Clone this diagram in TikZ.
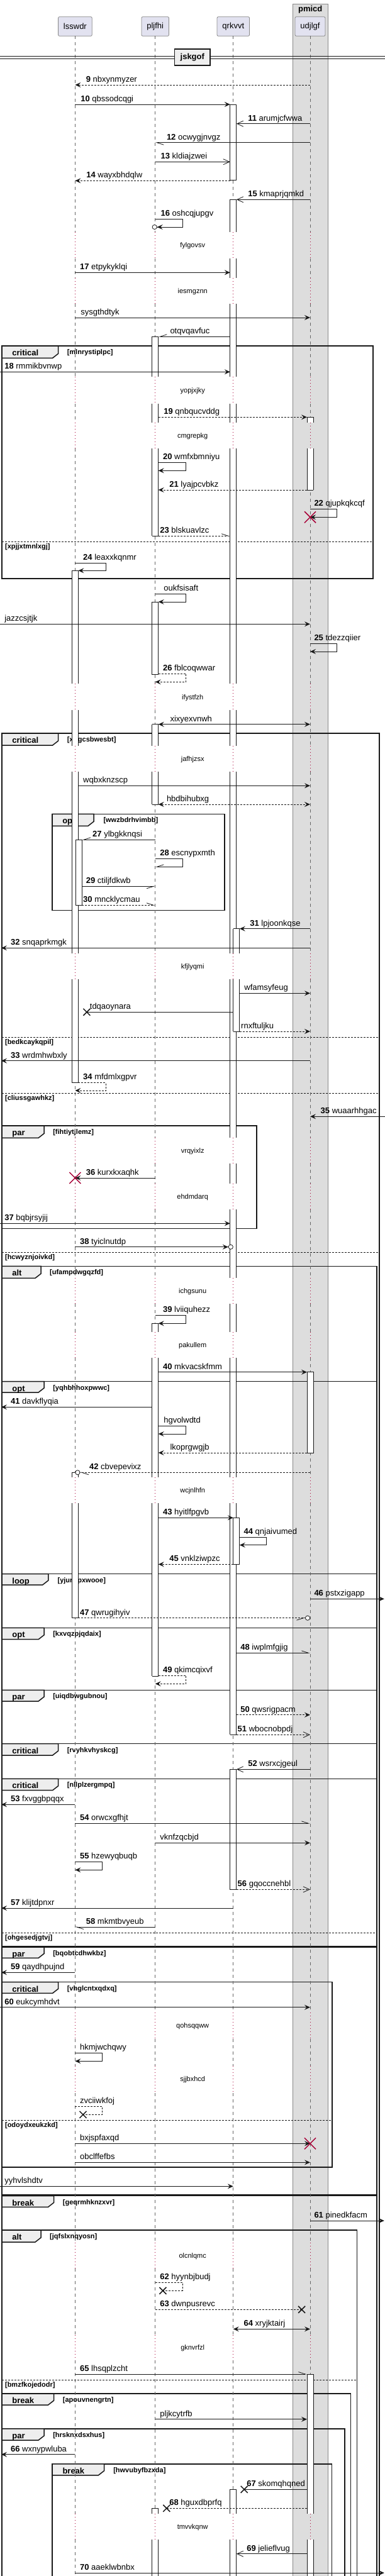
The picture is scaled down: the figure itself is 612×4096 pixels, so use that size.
\documentclass[tikz,border=0pt]{standalone}
\usepackage{fontspec}
\setmainfont{Liberation Sans}
\usetikzlibrary{arrows.meta}

\definecolor{ink}{HTML}{181818}
\definecolor{lifegray}{HTML}{666666}
\definecolor{boxline}{HTML}{888888}
\definecolor{crimson}{HTML}{A80036}
\definecolor{partfill}{HTML}{E2E2F0}
\definecolor{tabfill}{HTML}{EEEEEE}
\definecolor{boxfill}{HTML}{DDDDDD}

\begin{document}
\begin{tikzpicture}[x=1pt, y=-1pt,
    part/.style={draw=boxline, line width=0.8pt, fill=partfill, rounded corners=2pt, inner xsep=8.4pt, minimum height=30.6pt, font=\fontsize{13}{15}\selectfont},
    life/.style={lifegray, line width=0.8pt, dash pattern=on 5pt off 5pt},
    dots/.style={crimson, line width=0.8pt, dash pattern=on 1pt off 4pt},
    bar/.style={ink, line width=0.8pt},
    frame/.style={ink, line width=1.5pt},
    tab/.style={ink, line width=1.5pt, fill=tabfill},
    kw/.style={anchor=base west, inner sep=0pt, font=\bfseries\fontsize{13}{15}\selectfont},
    guard/.style={anchor=base west, inner sep=0pt, font=\bfseries\fontsize{11}{13}\selectfont},
    orelse/.style={ink, line width=0.8pt, dash pattern=on 3pt off 2pt},
    lbl/.style={anchor=base west, inner sep=0pt, font=\fontsize{13}{15}\selectfont},
    delay/.style={inner sep=0pt, font=\fontsize{11}{13}\selectfont},
    ret/.style={dash pattern=on 3pt off 2pt},
    plain/.style={ink, line width=0.8pt},
    call/.style={ink, line width=0.8pt, -{Stealth[length=9pt,width=8pt,inset=3.5pt]}},
    twoway/.style={ink, line width=0.8pt, {Stealth[length=9pt,width=8pt,inset=3.5pt]}-{Stealth[length=9pt,width=8pt,inset=3.5pt]}},
    barb/.style={ink, line width=0.8pt, -{Straight Barb[length=10pt,width=9pt]}},
    halfl/.style={ink, line width=0.8pt, -{Straight Barb[left,length=11pt,width=7pt]}},
    halfr/.style={ink, line width=0.8pt, -{Straight Barb[right,length=11pt,width=7pt]}},
    callo/.style={ink, line width=0.8pt, -{Stealth[length=9pt,width=8pt,inset=3.5pt]Circle[length=8pt,fill=white]}},
    halflo/.style={ink, line width=0.8pt, -{Straight Barb[left,length=11pt,width=7pt]Circle[length=8pt,fill=white]}},
    halfro/.style={ink, line width=0.8pt, -{Straight Barb[right,length=11pt,width=7pt]Circle[length=8pt,fill=white]}},
    lost/.style={ink, line width=1.5pt},
    kill/.style={crimson, line width=1.5pt}]

\useasboundingbox (0,0) rectangle (612,4096);

% box pmicd
\draw[draw=boxline, line width=0.8pt, fill=boxfill] (465,6) rectangle (521.4,4100);
\node[font=\bfseries\fontsize{13}{15}\selectfont] (pmicd) at (493.2,15.5) {pmicd};

% Participants
\node[part] (lsswdr) at (119.4,42) {lsswdr};
\node[part] (pljfhi) at (246.7,42) {pljfhi};
\node[part] (qrkvvt) at (370.8,42) {qrkvvt};
\node[part] (udjlgf) at (493,42) {udjlgf};

\coordinate (ls) at (119.4,0);  \coordinate (lsA) at (114.4,0); \coordinate (lsB) at (124.4,0); \coordinate (lsN) at (130.4,0);
\coordinate (pj) at (246.7,0);  \coordinate (pjA) at (241.7,0); \coordinate (pjB) at (251.7,0);
\coordinate (qr) at (370.8,0);  \coordinate (qrA) at (365.8,0); \coordinate (qrB) at (375.8,0); \coordinate (qrN) at (380.8,0);
\coordinate (ud) at (493,0);    \coordinate (udA) at (488,0);   \coordinate (udB) at (498,0);
\coordinate (lin) at (0,0); \coordinate (lft) at (2,0); \coordinate (rin) at (612,0); \coordinate (rgt) at (610.8,0);

% Frames
% critical [mlnrystiplpc]
\draw[frame] (3.2,550) rectangle (593.1,920);
\draw[tab] (3.2,550) -- (92.6,550) -- (92.6,562.3) -- (83.6,569.3) -- (3.2,569.3) -- cycle;
\node[kw] (f1) at (19.2,565.5) {critical};
\node[guard] (g1) at (106.6,563.5) {[mlnrystiplpc]};
\draw[orelse] (3.2,861.7) -- (593.1,861.7);
\node[guard] (e1) at (7.9,872.7) {[xpjjxtmnlxgj]};

% critical [xjrgcsbwesbt]
\draw[frame] (3.2,4100) -- (3.2,1166) -- (602.9,1166) -- (602.9,4100);
\draw[tab] (3.2,1166) -- (92.6,1166) -- (92.6,1178) -- (83.6,1185) -- (3.2,1185) -- cycle;
\node[kw] (f2) at (19.2,1181.5) {critical};
\node[guard] (g2) at (106.6,1179.5) {[xjrgcsbwesbt]};
\draw[orelse] (3.2,1649.3) -- (602.9,1649.3);
\node[guard] (e2) at (7.9,1660.3) {[bedkcaykqpil]};
\draw[orelse] (3.2,1738.3) -- (602.9,1738.3);
\node[guard] (e3) at (7.9,1749.3) {[cliussgawhkz]};
\draw[orelse] (3.2,1991.7) -- (602.9,1991.7);
\node[guard] (e4) at (7.9,2002.7) {[hcwyznjoivkd]};

% opt [wwzbdrhvimbb]
\draw[frame] (83.1,1294.3) rectangle (357,1447.3);
\draw[tab] (83.1,1294.3) -- (149,1294.3) -- (149,1306.3) -- (140,1313.3) -- (83.1,1313.3) -- cycle;
\node[kw] (f3) at (99.1,1309.8) {opt};
\node[guard] (g3) at (164.3,1307.8) {[wwzbdrhvimbb]};

% par [fihtiytjlemz]
\draw[frame] (3.2,1790) rectangle (407.9,1953.3);
\draw[tab] (3.2,1790) -- (70.1,1790) -- (70.1,1802.3) -- (61.1,1809.3) -- (3.2,1809.3) -- cycle;
\node[kw] (f4) at (19.2,1805.5) {par};
\node[guard] (g4) at (84.1,1803.5) {[fihtiytjlemz]};

% alt [ufampdwgqzfd]
\draw[frame] (3.2,4100) -- (3.2,2013.3) -- (599,2013.3) -- (599,4100);
\draw[tab] (3.2,2013.3) -- (65,2013.3) -- (65,2025.3) -- (56,2032.3) -- (3.2,2032.3) -- cycle;
\node[kw] (f5) at (19.2,2028.8) {alt};
\node[guard] (g5) at (79,2026.8) {[ufampdwgqzfd]};

% opt [yqhbhhoxpwwc]
\draw[frame] (3.2,2196.7) rectangle (599,2502.7);
\draw[tab] (3.2,2196.7) -- (70.1,2196.7) -- (70.1,2207) -- (61.1,2214) -- (3.2,2214) -- cycle;
\node[kw] (f6) at (19.2,2212.2) {opt};
\node[guard] (g6) at (84.1,2210.2) {[yqhbhhoxpwwc]};

% loop [yjurtrpxwooe]
\draw[frame] (3.2,2502.7) rectangle (599,2588.3);
\draw[tab] (3.2,2502.7) -- (76.8,2502.7) -- (76.8,2513) -- (67.8,2520) -- (3.2,2520) -- cycle;
\node[kw] (f7) at (19.2,2518.2) {loop};
\node[guard] (g7) at (91.4,2516.2) {[yjurtrpxwooe]};

% opt [kxvqzpjqdaix]
\draw[frame] (3.2,2588.3) rectangle (599,2687.3);
\draw[tab] (3.2,2588.3) -- (70.1,2588.3) -- (70.1,2599.7) -- (61.1,2606.7) -- (3.2,2606.7) -- cycle;
\node[kw] (f8) at (19.2,2603.8) {opt};
\node[guard] (g8) at (84.1,2601.8) {[kxvqzpjqdaix]};

% par [uiqdbwgubnou]
\draw[frame] (3.2,2687.3) rectangle (599,2772.7);
\draw[tab] (3.2,2687.3) -- (70.1,2687.3) -- (70.1,2698) -- (61.1,2705) -- (3.2,2705) -- cycle;
\node[kw] (f9) at (19.2,2702.8) {par};
\node[guard] (g9) at (84.1,2700.8) {[uiqdbwgubnou]};

% critical [rvyhkvhyskcg]
\draw[frame] (3.2,2772.7) rectangle (599,2828.3);
\draw[tab] (3.2,2772.7) -- (92.6,2772.7) -- (92.6,2784) -- (83.6,2791) -- (3.2,2791) -- cycle;
\node[kw] (f10) at (19.2,2788.2) {critical};
\node[guard] (g10) at (106.6,2786.2) {[rvyhkvhyskcg]};

% critical [nllplzergmpq]
\draw[frame] (3.2,2828.3) rectangle (599,3094.3);
\draw[tab] (3.2,2828.3) -- (92.6,2828.3) -- (92.6,2839.7) -- (83.6,2846.7) -- (3.2,2846.7) -- cycle;
\node[kw] (f11) at (19.2,2843.8) {critical};
\node[guard] (g11) at (106.6,2841.8) {[nllplzergmpq]};
\draw[orelse] (3.2,3073.3) -- (599,3073.3);
\node[guard] (e5) at (7.9,3084.3) {[ohgesedjgtvj]};

% par [bqobtcdhwkbz]
\draw[frame] (3.2,3096) rectangle (599,3490);
\draw[tab] (3.2,3096) -- (70.1,3096) -- (70.1,3106.3) -- (61.1,3113.3) -- (3.2,3113.3) -- cycle;
\node[kw] (f12) at (19.2,3111.5) {par};
\node[guard] (g12) at (84.1,3109.5) {[bqobtcdhwkbz]};

% critical [vhglcntxqdxq]
\draw[frame] (3.2,3151.7) rectangle (528,3446);
\draw[tab] (3.2,3151.7) -- (92.6,3151.7) -- (92.6,3162.3) -- (83.6,3169.3) -- (3.2,3169.3) -- cycle;
\node[kw] (f13) at (19.2,3167.2) {critical};
\node[guard] (g13) at (106.6,3165.2) {[vhglcntxqdxq]};
\draw[orelse] (3.2,3371.7) -- (528,3371.7);
\node[guard] (e6) at (7.9,3382.7) {[odoydxeukzkd]};

% break [geqrmhknzxvr]
\draw[frame] (3.2,4100) -- (3.2,3491.7) -- (599,3491.7) -- (599,4100);
\draw[tab] (3.2,3491.7) -- (85.5,3491.7) -- (85.5,3502.3) -- (76.5,3509.3) -- (3.2,3509.3) -- cycle;
\node[kw] (f14) at (19.2,3507.2) {break};
\node[guard] (g14) at (99.7,3505.2) {[geqrmhknzxvr]};

% alt [jqfslxnqyosn]
\draw[frame] (3.2,4100) -- (3.2,3546) -- (567.5,3546) -- (567.5,4100);
\draw[tab] (3.2,3546) -- (65,3546) -- (65,3558) -- (56,3565) -- (3.2,3565) -- cycle;
\node[kw] (f15) at (19.2,3561.5) {alt};
\node[guard] (g15) at (79,3559.5) {[jqfslxnqyosn]};
\draw[orelse] (3.2,3784) -- (567.5,3784);
\node[guard] (e7) at (7.9,3795) {[bmzfkojedodr]};

% break [apouvnengrtn]
\draw[frame] (3.2,4100) -- (3.2,3806) -- (557.6,3806) -- (557.6,4100);
\draw[tab] (3.2,3806) -- (85.5,3806) -- (85.5,3817) -- (76.5,3824) -- (3.2,3824) -- cycle;
\node[kw] (f16) at (19.2,3821.5) {break};
\node[guard] (g16) at (99.7,3819.5) {[apouvnengrtn]};

% par [hrsknxdsxhus]
\draw[frame] (3.2,4100) -- (3.2,3861.7) -- (547.8,3861.7) -- (547.8,4100);
\draw[tab] (3.2,3861.7) -- (70.1,3861.7) -- (70.1,3873) -- (61.1,3880) -- (3.2,3880) -- cycle;
\node[kw] (f17) at (19.2,3877.2) {par};
\node[guard] (g17) at (84.1,3875.2) {[hrsknxdsxhus]};

% break [hwvubyfbzxda]
\draw[frame] (83.1,4100) -- (83.1,3917.7) -- (527.3,3917.7) -- (527.3,4100);
\draw[tab] (83.1,3917.7) -- (165.5,3917.7) -- (165.5,3928.7) -- (156.5,3935.7) -- (83.1,3935.7) -- cycle;
\node[kw] (f18) at (99.3,3933.2) {break};
\node[guard] (g18) at (180.1,3931.2) {[hwvubyfbzxda]};

% Lifelines
\foreach \c in {ls,pj,qr,ud} {
  \foreach \a/\b in {57.3/369.3, 410.7/441.7, 483.3/599.3, 641.7/671.7, 713.3/1086.7, 1129.3/1185.7, 1226.7/1515.7, 1556.7/1809.3, 1850.3/1881.7, 1922.7/2032.3, 2073.3/2117.7, 2159/2349.3, 2390/3200, 3241.7/3285.3, 3328.3/3565.7, 3606.7/3713.3, 3753.3/3996.7, 4038.3/4100}
    \draw[life] (\c |- 0,\a) -- (\c |- 0,\b);
  \foreach \a/\b in {369.3/410.7, 441.7/483.3, 599.3/641.7, 671.7/713.3, 1086.7/1129.3, 1185.7/1226.7, 1515.7/1556.7, 1809.3/1850.3, 1881.7/1922.7, 2032.3/2073.3, 2117.7/2159, 2349.3/2390, 3200/3241.7, 3285.3/3328.3, 3565.7/3606.7, 3713.3/3753.3, 3996.7/4038.3}
    \draw[dots] (\c |- 0,\a) -- (\c |- 0,\b);
}

% Delays
\node[delay] (d1) at (306.2,391) {fylgovsv};
\node[delay] (d2) at (306.2,463.3) {iesmgznn};
\node[delay] (d3) at (306.2,621.7) {yopjxjky};
\node[delay] (d4) at (306.2,693.3) {cmgrepkg};
\node[delay] (d5) at (306.2,1109.3) {ifystfzh};
\node[delay] (d6) at (306.2,1207.3) {jafhjzsx};
\node[delay] (d7) at (306.2,1537.3) {kfjlyqmi};
\node[delay] (d8) at (306.2,1831) {vrqyixlz};
\node[delay] (d9) at (306.2,1903.3) {ehdmdarq};
\node[delay] (d10) at (306.2,2053.3) {ichgsunu};
\node[delay] (d11) at (306.2,2139.3) {pakullem};
\node[delay] (d12) at (306.2,2371) {wcjnlhfn};
\node[delay] (d13) at (306.2,3221.3) {qohsqqww};
\node[delay] (d14) at (306.2,3307) {sjjbxhcd};
\node[delay] (d15) at (306.2,3587.3) {olcnlqmc};
\node[delay] (d16) at (306.2,3733.3) {gknvrfzl};
\node[delay] (d17) at (306.2,4018.3) {tmvvkqnw};

% Activations
\draw[bar, fill=white] (365.8,166) rectangle (375.8,286.7);
\foreach \a/\b in {317.3/369.3, 410.7/441.7, 483.3/599.3, 641.7/671.7, 713.3/1086.7, 1129.3/1185.7, 1226.7/1515.7, 1556.7/1809.3, 1850.3/1881.7, 1922.7/2032.3, 2073.3/2117.7, 2159/2349.3, 2390/2758.3}
  {\fill[white] (365.8,\a) rectangle (375.8,\b); \draw[bar] (365.8,\a) -- (365.8,\b) (375.8,\a) -- (375.8,\b);}
\draw[bar] (365.8,317.3) -- (375.8,317.3) (365.8,2758.3) -- (375.8,2758.3);
\foreach \a/\b in {535.3/599.3, 641.7/671.7, 713.3/852.3}
  {\fill[white] (241.7,\a) rectangle (251.7,\b); \draw[bar] (241.7,\a) -- (241.7,\b) (251.7,\a) -- (251.7,\b);}
\draw[bar] (241.7,535.3) -- (251.7,535.3) (241.7,852.3) -- (251.7,852.3);
\foreach \a/\b in {663.3/671.7, 713.3/779}
  {\fill[white] (488,\a) rectangle (498,\b); \draw[bar] (488,\a) -- (488,\b) (498,\a) -- (498,\b);}
\draw[bar] (488,663.3) -- (498,663.3) (488,779) -- (498,779);
\foreach \a/\b in {907.3/1086.7, 1129.3/1185.7, 1226.7/1515.7, 1556.7/1721.7}
  {\fill[white] (114.4,\a) rectangle (124.4,\b); \draw[bar] (114.4,\a) -- (114.4,\b) (124.4,\a) -- (124.4,\b);}
\draw[bar] (114.4,907.3) -- (124.4,907.3) (114.4,1721.7) -- (124.4,1721.7);
\draw[bar, fill=white] (241.7,957) rectangle (251.7,1072.3);
\foreach \a/\b in {1151.7/1185.7, 1226.7/1279}
  {\fill[white] (241.7,\a) rectangle (251.7,\b); \draw[bar] (241.7,\a) -- (241.7,\b) (251.7,\a) -- (251.7,\b);}
\draw[bar] (241.7,1151.7) -- (251.7,1151.7) (241.7,1279) -- (251.7,1279);
\draw[bar, fill=white] (120.4,1335.3) rectangle (130.4,1439.3);
\foreach \a/\b in {1476.7/1515.7, 1556.7/1640}
  {\fill[white] (370.8,\a) rectangle (380.8,\b); \draw[bar] (370.8,\a) -- (370.8,\b) (380.8,\a) -- (380.8,\b);}
\draw[bar] (370.8,1476.7) -- (380.8,1476.7) (370.8,1640) -- (380.8,1640);
\foreach \a/\b in {2104.3/2117.7, 2159/2349.3, 2390/2665}
  {\fill[white] (241.7,\a) rectangle (251.7,\b); \draw[bar] (241.7,\a) -- (241.7,\b) (251.7,\a) -- (251.7,\b);}
\draw[bar] (241.7,2104.3) -- (251.7,2104.3) (241.7,2665) -- (251.7,2665);
\draw[bar, fill=white] (488,2181.7) rectangle (498,2310);
\foreach \a/\b in {2341.3/2349.3, 2390/2572.7}
  {\fill[white] (114.4,\a) rectangle (124.4,\b); \draw[bar] (114.4,\a) -- (114.4,\b) (124.4,\a) -- (124.4,\b);}
\draw[bar] (114.4,2341.3) -- (124.4,2341.3) (114.4,2572.7) -- (124.4,2572.7);
\draw[bar, fill=white] (370.8,2413.3) rectangle (380.8,2487.3);
\draw[bar, fill=white] (365.8,2813.3) rectangle (375.8,3004.3);
\foreach \a/\b in {3775/3996.7, 4038.3/4100}
  {\fill[white] (488,\a) rectangle (498,\b); \draw[bar] (488,\a) -- (488,\b) (498,\a) -- (498,\b);}
\draw[bar] (488,3775) -- (498,3775);
\foreach \a/\b in {3958.3/3996.7, 4038.3/4100}
  {\fill[white] (365.8,\a) rectangle (375.8,\b); \draw[bar] (365.8,\a) -- (365.8,\b) (375.8,\a) -- (375.8,\b);}
\draw[bar] (365.8,3958.3) -- (375.8,3958.3);
\foreach \a/\b in {3988.3/3996.7, 4038.3/4100}
  {\fill[white] (241.7,\a) rectangle (251.7,\b); \draw[bar] (241.7,\a) -- (241.7,\b) (251.7,\a) -- (251.7,\b);}
\draw[bar] (241.7,3988.3) -- (251.7,3988.3);

% Divider
\draw[ink, line width=0.8pt] (0,89.5) -- (612,89.5) (0,93.3) -- (612,93.3);
\node[draw=ink, line width=1.5pt, fill=tabfill, font=\bfseries\fontsize{13}{15}\selectfont, minimum width=56.8pt, minimum height=26.3pt, inner sep=0pt] (jskgof) at (305.8,90.9) {jskgof};

% Messages
\draw[call, ret] (ud |- 0,135) -- (ls |- 0,135);
\node[lbl] (m9) at (136.7,130.5) {\textbf{9} nbxynmyzer};
\draw[call] (ls |- 0,166) -- (qrA |- 0,166);
\node[lbl] (m10) at (128.1,161.5) {\textbf{10} qbssodcqgi};
\draw[barb] (ud |- 0,196.7) -- (qrB |- 0,196.7);
\node[lbl] (m11) at (394.1,192.2) {\textbf{11} arumjcfwwa};
\draw[halfl] (ud |- 0,226.7) -- (pj |- 0,226.7);
\node[lbl] (m12) at (264.8,222.2) {\textbf{12} ocwygjnvgz};
\draw[barb] (pj |- 0,257.3) -- (qrA |- 0,257.3);
\node[lbl] (m13) at (255.4,252.8) {\textbf{13} kldiajzwei};
\draw[call, ret] (qrA |- 0,287.3) -- (ls |- 0,287.3);
\node[lbl] (m14) at (137.1,282.8) {\textbf{14} wayxbhdqlw};
\draw[barb] (ud |- 0,317.3) -- (qrB |- 0,317.3);
\node[lbl] (m15) at (394.1,312.8) {\textbf{15} kmaprjqmkd};
\draw[callo] (pj |- 0,348.3) -- (290,348.3) -- (290,361) -- (pjA |- 0,361);
\node[lbl] (m16) at (255.4,343.3) {\textbf{16} oshcqjupgv};
\draw[call] (ls |- 0,433.3) -- (qrA |- 0,433.3);
\node[lbl] (m17) at (126.9,428.8) {\textbf{17} etpykyklqi};
\draw[call] (ls |- 0,505) -- (ud |- 0,505);
\node[lbl] (ms) at (128.1,500.5) {sysgthdtyk};
\draw[halfr] (qrA |- 0,535.3) -- (pjB |- 0,535.3);
\node[lbl] (mo) at (270.3,530.8) {otqvqavfuc};
\draw[call] (lin |- 0,591.3) -- (qrA |- 0,591.3);
\node[lbl] (m18) at (7.1,586.8) {\textbf{18} rmmikbvnwp};
\draw[call, ret] (pjB |- 0,663.3) -- (udA |- 0,663.3);
\node[lbl] (m19) at (260.1,658.8) {\textbf{19} qnbqucvddg};
\draw[call] (pjB |- 0,735.7) -- (295.6,735.7) -- (295.6,748.3) -- (pjB |- 0,748.3);
\node[lbl] (m20) at (258.9,730.7) {\textbf{20} wmfxbmniyu};
\draw[call, ret] (udA |- 0,779) -- (pjB |- 0,779);
\node[lbl] (m21) at (269.2,774.5) {\textbf{21} lyajpcvbkz};
\draw[call] (ud |- 0,809.7) -- (535.5,809.7) -- (535.5,822.3) -- (ud |- 0,822.3);
\node[lbl] (m22) at (499.3,804.7) {\textbf{22} qjupkqkcqf};
\coordinate (x22) at (ud |- 0,822.3);
\draw[kill] (x22) +(-9,-9) -- +(9,9) (x22) +(-9,9) -- +(9,-9);
\draw[halfl, ret] (pjB |- 0,852.3) -- (qrA |- 0,852.3);
\node[lbl] (m23) at (254.2,847.8) {\textbf{23} blskuavlzc};
\draw[call] (ls |- 0,895) -- (168.3,895) -- (168.3,907.3) -- (lsB |- 0,907.3);
\node[lbl] (m24) at (132,890) {\textbf{24} leaxxkqnmr};
\draw[call] (pj |- 0,944.3) -- (295.6,944.3) -- (295.6,957) -- (pjB |- 0,957);
\node[lbl] (mu) at (260.1,939.3) {oukfsisaft};
\draw[call] (lin |- 0,992.3) -- (ud |- 0,992.3);
\node[lbl] (mj) at (7.1,987.8) {jazzcsjtjk};
\draw[call] (ud |- 0,1023.3) -- (535.5,1023.3) -- (535.5,1036) -- (ud |- 0,1036);
\node[lbl] (m25) at (499.3,1018.3) {\textbf{25} tdezzqiier};
\draw[call, ret] (pjB |- 0,1071.3) -- (295.6,1071.3) -- (295.6,1084.3) -- (pj |- 0,1084.3);
\node[lbl] (m26) at (258.9,1066.3) {\textbf{26} fblcoqwwar};
\draw[twoway] (pjB |- 0,1151.7) -- (ud |- 0,1151.7);
\node[lbl] (mx) at (270.3,1147.2) {xixyexvnwh};
\draw[call] (lsB |- 0,1249.3) -- (ud |- 0,1249.3);
\node[lbl] (mw) at (132,1244.8) {wqbxknzscp};
\draw[twoway, ret] (pjB |- 0,1279) -- (ud |- 0,1279);
\node[lbl] (mh) at (264.8,1274.5) {hbdbihubxg};
\draw[halfr] (pj |- 0,1335.3) -- (lsN |- 0,1335.3);
\node[lbl] (m27) at (147,1330.8) {\textbf{27} ylbgkknqsi};
\draw[halfr] (pj |- 0,1365) -- (290,1365) -- (290,1378.3) -- (pj |- 0,1378.3);
\node[lbl] (m28) at (254.2,1360) {\textbf{28} escnypxmth};
\draw[halfr] (lsN |- 0,1409.3) -- (pj |- 0,1409.3);
\node[lbl] (m29) at (136.7,1404.8) {\textbf{29} ctiljfdkwb};
\draw[halfl, ret] (lsN |- 0,1439.3) -- (pj |- 0,1439.3);
\node[lbl] (m30) at (132,1434.8) {\textbf{30} mncklycmau};
\draw[call] (ud |- 0,1476.7) -- (qrN |- 0,1476.7);
\node[lbl] (m31) at (397.2,1472.2) {\textbf{31} lpjoonkqse};
\draw[call] (ud |- 0,1507.3) -- (lft |- 0,1507.3);
\node[lbl] (m32) at (16.9,1502.8) {\textbf{32} snqaprkmgk};
\draw[call] (qrN |- 0,1579.3) -- (ud |- 0,1579.3);
\node[lbl] (mf) at (388.2,1574.8) {wfamsyfeug};
\coordinate (xt) at (137.9,1609.3);
\draw[plain] (qr |- 0,1609.3) -- (xt);
\draw[lost] (xt) +(-5.5,-5.5) -- +(5.5,5.5) (xt) +(-5.5,5.5) -- +(5.5,-5.5);
\node[lbl] (mt) at (142.7,1604.8) {tdqaoynara};
\draw[call, ret] (qrN |- 0,1640) -- (ud |- 0,1640);
\node[lbl] (mr) at (383,1635.5) {rnxftuljku};
\draw[call] (ud |- 0,1686.7) -- (lft |- 0,1686.7);
\node[lbl] (m33) at (16.9,1682.2) {\textbf{33} wrdmhwbxly};
\draw[call, ret] (lsB |- 0,1721.7) -- (168.3,1721.7) -- (168.3,1734) -- (ls |- 0,1734);
\node[lbl] (m34) at (132,1716.7) {\textbf{34} mfdmlxgpvr};
\draw[call] (rin |- 0,1775.3) -- (ud |- 0,1775.3);
\node[lbl] (m35) at (509.5,1770.8) {\textbf{35} wuaarhhgac};
\draw[call] (pj |- 0,1873) -- (ls |- 0,1873);
\node[lbl] (m36) at (136.7,1868.5) {\textbf{36} kurxkxaqhk};
\coordinate (x36) at (ls |- 0,1873);
\draw[kill] (x36) +(-9,-9) -- +(9,9) (x36) +(-9,9) -- +(9,-9);
\draw[call] (lin |- 0,1945.3) -- (qrA |- 0,1945.3);
\node[lbl] (m37) at (7.1,1940.8) {\textbf{37} bqbjrsyjij};
\draw[callo] (ls |- 0,1982.7) -- (qr |- 0,1982.7);
\node[lbl] (m38) at (126.9,1978.2) {\textbf{38} tyiclnutdp};
\draw[call] (pj |- 0,2091.7) -- (295.6,2091.7) -- (295.6,2104.3) -- (pjB |- 0,2104.3);
\node[lbl] (m39) at (258.9,2086.7) {\textbf{39} lviiquhezz};
\draw[call] (pjB |- 0,2181.7) -- (udA |- 0,2181.7);
\node[lbl] (m40) at (258.9,2177.2) {\textbf{40} mkvacskfmm};
\draw[call] (pjA |- 0,2237.3) -- (lft |- 0,2237.3);
\node[lbl] (m41) at (16.9,2232.8) {\textbf{41} davkflyqia};
\draw[call] (pjB |- 0,2267.7) -- (295.6,2267.7) -- (295.6,2280) -- (pjB |- 0,2280);
\node[lbl] (mg) at (260.1,2262.7) {hgvolwdtd};
\draw[call, ret] (udA |- 0,2310) -- (pjB |- 0,2310);
\node[lbl] (mk) at (270.3,2305.5) {lkoprgwgjb};
\draw[halflo, ret] (ud |- 0,2341.3) -- (ls |- 0,2341.3);
\node[lbl] (m42) at (141.9,2336.8) {\textbf{42} cbvepevixz};
\draw[call] (pjB |- 0,2413.3) -- (qr |- 0,2413.3);
\node[lbl] (m43) at (258.9,2408.8) {\textbf{43} hyitlfpgvb};
\draw[call] (qrN |- 0,2444) -- (423.6,2444) -- (423.6,2456.7) -- (qrN |- 0,2456.7);
\node[lbl] (m44) at (387.4,2439) {\textbf{44} qnjaivumed};
\draw[call, ret] (qr |- 0,2487.3) -- (pjB |- 0,2487.3);
\node[lbl] (m45) at (269.2,2482.8) {\textbf{45} vnklziwpzc};
\draw[call] (ud |- 0,2542.3) -- (rgt |- 0,2542.3);
\node[lbl] (m46) at (499.3,2537.8) {\textbf{46} pstxzigapp};
\draw[halfro, ret] (lsB |- 0,2572.7) -- (ud |- 0,2572.7);
\node[lbl] (m47) at (126.9,2568.2) {\textbf{47} qwrugihyiv};
\draw[halfl] (qrB |- 0,2628.3) -- (ud |- 0,2628.3);
\node[lbl] (m48) at (382.2,2623.8) {\textbf{48} iwplmfgjig};
\draw[call, ret] (pjB |- 0,2664.3) -- (295.6,2664.3) -- (295.6,2677.3) -- (pj |- 0,2677.3);
\node[lbl] (m49) at (258.9,2659.3) {\textbf{49} qkimcqixvf};
\draw[call, ret] (qrB |- 0,2726.7) -- (ud |- 0,2726.7);
\node[lbl] (m50) at (382.2,2722.2) {\textbf{50} qwsrigpacm};
\draw[barb, ret] (qrB |- 0,2758.3) -- (ud |- 0,2758.3);
\node[lbl] (m51) at (377.5,2753.8) {\textbf{51} wbocnobpdj};
\draw[barb] (ud |- 0,2813.3) -- (qrB |- 0,2813.3);
\node[lbl] (m52) at (394.1,2808.8) {\textbf{52} wsrxcjgeul};
\draw[call] (ls |- 0,2869.3) -- (lft |- 0,2869.3);
\node[lbl] (m53) at (16.9,2864.8) {\textbf{53} fxvggbpqqx};
\draw[halfl] (ls |- 0,2899.3) -- (ud |- 0,2899.3);
\node[lbl] (m54) at (126.9,2894.8) {\textbf{54} orwcxgfhjt};
\draw[call] (pj |- 0,2930.3) -- (ud |- 0,2930.3);
\node[lbl] (mv) at (254.2,2925.8) {vknfzqcbjd};
\draw[call] (ls |- 0,2960.7) -- (162.8,2960.7) -- (162.8,2973.3) -- (ls |- 0,2973.3);
\node[lbl] (m55) at (126.9,2955.7) {\textbf{55} hzewyqbuqb};
\draw[barb, ret] (qrB |- 0,3004.3) -- (ud |- 0,3004.3);
\node[lbl] (m56) at (377.5,2999.8) {\textbf{56} gqoccnehbl};
\draw[call] (qr |- 0,3034) -- (lft |- 0,3034);
\node[lbl] (m57) at (16.9,3029.5) {\textbf{57} klijtdpnxr};
\draw[halfl] (pj |- 0,3064) -- (ls |- 0,3064);
\node[lbl] (m58) at (136.7,3059.5) {\textbf{58} mkmtbvyeub};
\draw[call] (ls |- 0,3136.3) -- (lft |- 0,3136.3);
\node[lbl] (m59) at (16.9,3131.8) {\textbf{59} qaydhpujnd};
\draw[call] (lin |- 0,3191.7) -- (ud |- 0,3191.7);
\node[lbl] (m60) at (7.1,3187.2) {\textbf{60} eukcymhdvt};
\draw[call] (ls |- 0,3264.7) -- (162.8,3264.7) -- (162.8,3277.3) -- (ls |- 0,3277.3);
\node[lbl] (mq) at (126.9,3259.7) {hkmjwchqwy};
\coordinate (xz) at (132,3362.3);
\draw[plain, ret] (ls |- 0,3349.3) -- (162.8,3349.3) -- (162.8,3362.3) -- (xz);
\draw[lost] (xz) +(-5.5,-5.5) -- +(5.5,5.5) (xz) +(-5.5,5.5) -- +(5.5,-5.5);
\node[lbl] (mz) at (126.9,3344.3) {zvciiwkfoj};
\draw[call] (ls |- 0,3408.3) -- (ud |- 0,3408.3);
\node[lbl] (mb) at (126.9,3403.8) {bxjspfaxqd};
\coordinate (xb) at (ud |- 0,3408.3);
\draw[kill] (xb) +(-9,-9) -- +(9,9) (xb) +(-9,9) -- +(9,-9);
\draw[call] (ls |- 0,3438.3) -- (ud |- 0,3438.3);
\node[lbl] (mc) at (126.9,3433.8) {obclffefbs};
\draw[call] (lin |- 0,3476.3) -- (qr |- 0,3476.3);
\node[lbl] (my) at (7.1,3471.8) {yyhvlshdtv};
\draw[call] (ud |- 0,3531) -- (rgt |- 0,3531);
\node[lbl] (m61) at (499.3,3526.5) {\textbf{61} pinedkfacm};
\coordinate (x62) at (258.9,3642.3);
\draw[plain, ret] (pj |- 0,3629.3) -- (290,3629.3) -- (290,3642.3) -- (x62);
\draw[lost] (x62) +(-5.5,-5.5) -- +(5.5,5.5) (x62) +(-5.5,5.5) -- +(5.5,-5.5);
\node[lbl] (m62) at (254.2,3624.3) {\textbf{62} hyynbjbudj};
\coordinate (x63) at (479.6,3672.3);
\draw[plain, ret] (pj |- 0,3672.3) -- (x63);
\draw[lost] (x63) +(-5.5,-5.5) -- +(5.5,5.5) (x63) +(-5.5,5.5) -- +(5.5,-5.5);
\node[lbl] (m63) at (254.2,3667.8) {\textbf{63} dwnpusrevc};
\draw[twoway] (qr |- 0,3703.3) -- (ud |- 0,3703.3);
\node[lbl] (m64) at (387.4,3698.8) {\textbf{64} xryjktairj};
\draw[halfl] (ls |- 0,3775) -- (udA |- 0,3775);
\node[lbl] (m65) at (126.9,3770.5) {\textbf{65} lhsqplzcht};
\draw[call] (pj |- 0,3846.7) -- (udA |- 0,3846.7);
\node[lbl] (mp) at (254.2,3842.2) {pljkcytrfb};
\draw[call] (ls |- 0,3902.7) -- (lft |- 0,3902.7);
\node[lbl] (m66) at (16.9,3898.2) {\textbf{66} wxnypwluba};
\coordinate (x67) at (388.2,3958.3);
\draw[plain] (udA |- 0,3958.3) -- (x67);
\draw[lost] (x67) +(-5.5,-5.5) -- +(5.5,5.5) (x67) +(-5.5,5.5) -- +(5.5,-5.5);
\node[lbl] (m67) at (392.1,3953.8) {\textbf{67} skomqhqned};
\coordinate (x68) at (264.8,3988.3);
\draw[plain, ret] (udA |- 0,3988.3) -- (x68);
\draw[lost] (x68) +(-5.5,-5.5) -- +(5.5,5.5) (x68) +(-5.5,5.5) -- +(5.5,-5.5);
\node[lbl] (m68) at (269.2,3983.8) {\textbf{68} hguxdbprfq};
\draw[barb] (udA |- 0,4060.7) -- (qrB |- 0,4060.7);
\node[lbl] (m69) at (392.1,4056.2) {\textbf{69} jelieflvug};
\draw[call] (ls |- 0,4091) -- (rgt |- 0,4091);
\node[lbl] (m70) at (126.9,4086.5) {\textbf{70} aaeklwbnbx};

\end{tikzpicture}
\end{document}
